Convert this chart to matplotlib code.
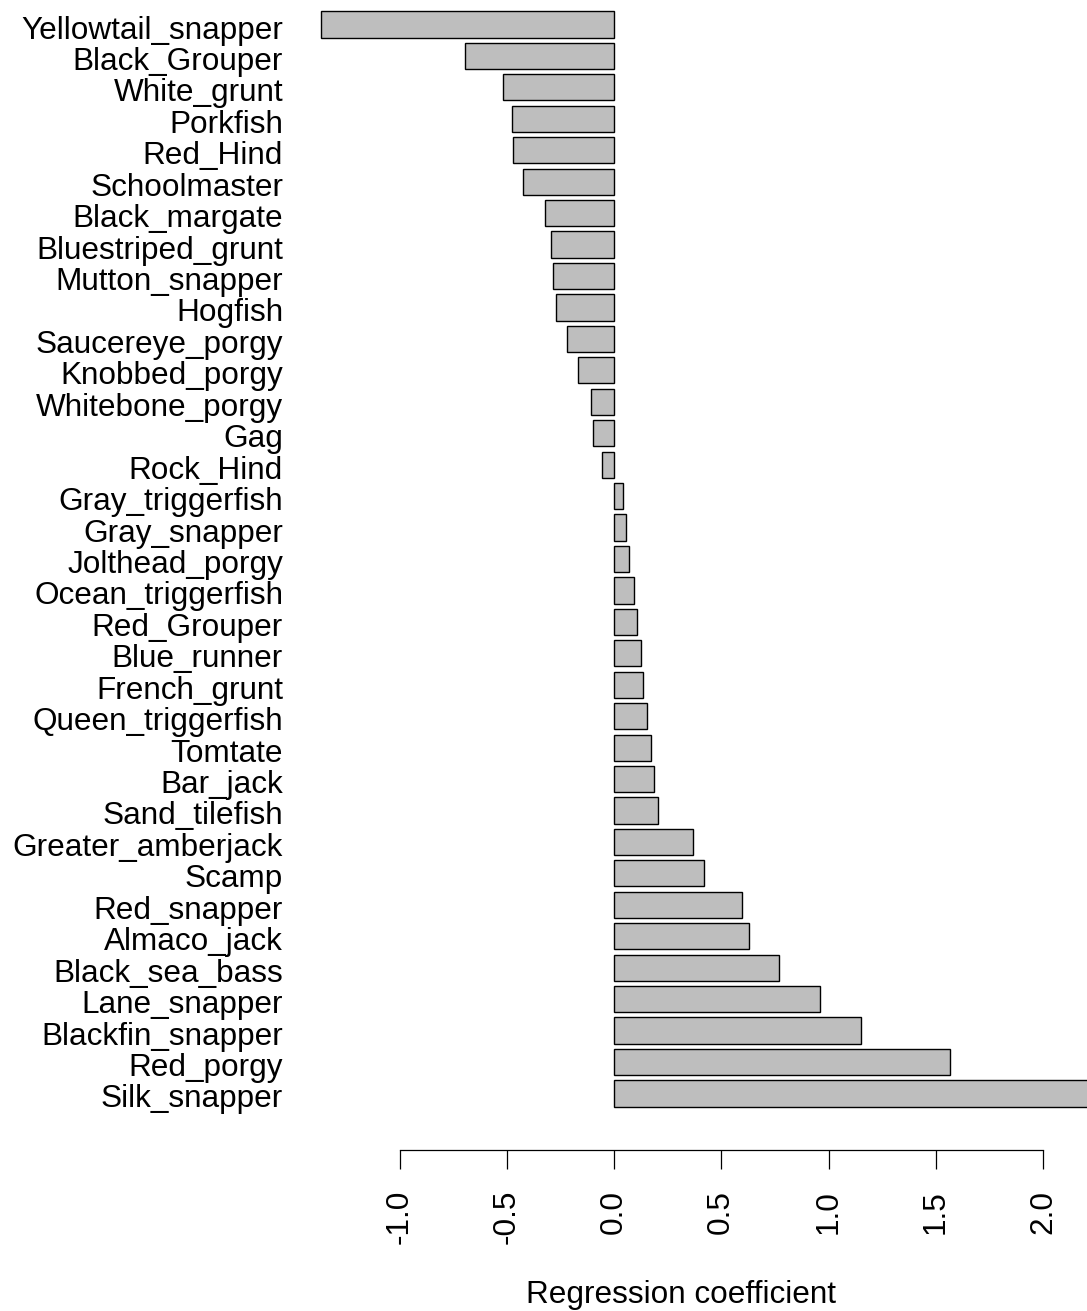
import matplotlib
matplotlib.use("Agg")
import matplotlib.pyplot as plt
import matplotlib.transforms as mtransforms
import numpy as np

species = ["Yellowtail_snapper", "Black_Grouper", "White_grunt", "Porkfish", "Red_Hind",
           "Schoolmaster", "Black_margate", "Bluestriped_grunt", "Mutton_snapper", "Hogfish",
           "Saucereye_porgy", "Knobbed_porgy", "Whitebone_porgy", "Gag", "Rock_Hind",
           "Gray_triggerfish", "Gray_snapper", "Jolthead_porgy", "Ocean_triggerfish", "Red_Grouper",
           "Blue_runner", "French_grunt", "Queen_triggerfish", "Tomtate", "Bar_jack",
           "Sand_tilefish", "Greater_amberjack", "Scamp", "Red_snapper", "Almaco_jack",
           "Black_sea_bass", "Lane_snapper", "Blackfin_snapper", "Red_porgy", "Silk_snapper"]
coefficients = [-1.366, -0.695, -0.518, -0.476, -0.471,
                -0.425, -0.322, -0.294, -0.285, -0.271,
                -0.219, -0.168, -0.107, -0.098, -0.056,
                0.042, 0.056, 0.070, 0.093, 0.107,
                0.126, 0.135, 0.154, 0.173, 0.187,
                0.205, 0.366, 0.420, 0.599, 0.628,
                0.770, 0.961, 1.153, 1.568, 2.35]
xticks = [-1.0, -0.5, 0.0, 0.5, 1.0, 1.5, 2.0]
xticklabels = ["-1.0", "-0.5", "0.0", "0.5", "1.0", "1.5", "2.0"]
xlabel = "Regression coefficient"

W, H = 1087, 1311
fig = plt.figure(figsize=(W / 100, H / 100), dpi=100)
plt.rcParams['font.family'] = ['Liberation Sans', 'DejaVu Sans']

left_px, right_px, top_px, bot_px = 290, 1087, 0, 1130
ax = fig.add_axes([left_px / W, 1 - bot_px / H, (right_px - left_px) / W, (bot_px - top_px) / H])

zero_px, scale = 614, 214.5
ax.set_xlim((left_px - zero_px) / scale, (right_px - zero_px) / scale)
y0, step = 24.5, 31.44
ax.set_ylim((bot_px - y0) / step, (top_px - y0) / step)

ypos = np.arange(len(species))
ax.barh(ypos, coefficients, height=1 / 1.2, color="#BEBEBE", edgecolor="black", linewidth=1.0)

fs = 22.7
ax.set_yticks(ypos)
ax.set_yticklabels(species, fontsize=fs)
ax.tick_params(axis="y", length=0, pad=5)
offset = mtransforms.ScaledTranslation(0, -2.5 / 100, fig.dpi_scale_trans)
for lbl in ax.get_yticklabels():
    lbl.set_transform(lbl.get_transform() + offset)

for s in ["top", "right", "left"]:
    ax.spines[s].set_visible(False)
ax.spines["bottom"].set_position(("outward", 14.4))
ax.spines["bottom"].set_bounds(xticks[0], xticks[-1])
ax.spines["bottom"].set_linewidth(0.9)
ax.set_xticks(xticks)
ax.set_xticklabels(xticklabels, fontsize=fs, rotation=90)
ax.tick_params(axis="x", length=13.7, width=0.9, pad=15)

fig.text(681 / W, 1 - 1303 / H, xlabel, fontsize=fs, ha="center", va="baseline")

fig.savefig("out.png", dpi=100)
